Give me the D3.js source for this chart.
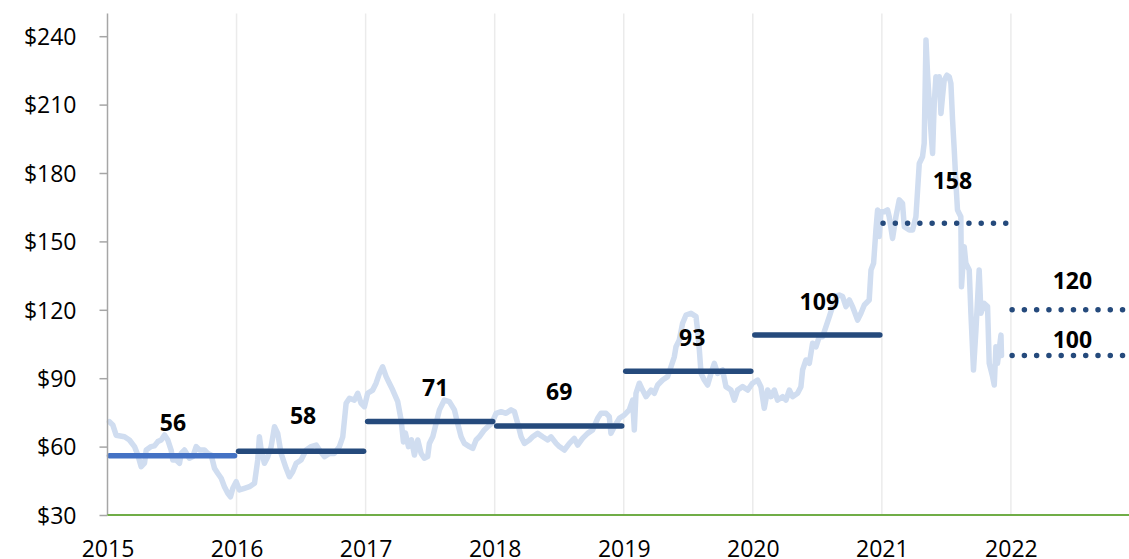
<!DOCTYPE html>
<html>
<head>
<meta charset="utf-8">
<script src="https://cdn.jsdelivr.net/npm/d3@7"></script>
<style>
  html, body { margin: 0; padding: 0; background: #fff; }
  #chart { width: 1129px; height: 559px; overflow: hidden; }
  .axis-label { font-family: 'Open Sans', 'Noto Sans', sans-serif; font-size: 23px; fill: #000; }
  .avg-label { font-family: 'Open Sans', 'Noto Sans', sans-serif; font-size: 23px; font-weight: bold; fill: #000; }
</style>
</head>
<body>
<div id="chart"></div>
<script>
(function() {

  'use strict';

  // Price trace, [decimal year, price].
  var prices = [
    [2015.015, 70.9], [2015.041, 69.5], [2015.067, 65], [2015.132, 64.3], [2015.170, 62.9],
    [2015.209, 60], [2015.235, 56.3], [2015.261, 51.2], [2015.287, 52.8], [2015.300, 58.5],
    [2015.338, 60], [2015.364, 60.3], [2015.390, 62.2], [2015.416, 62.9], [2015.442, 65.1],
    [2015.467, 62.9], [2015.493, 58.5], [2015.506, 54.1], [2015.532, 54.1], [2015.558, 52.7],
    [2015.571, 57], [2015.596, 58.5], [2015.635, 54.9], [2015.661, 55.6], [2015.687, 60],
    [2015.713, 58.5], [2015.751, 58.5], [2015.777, 57], [2015.803, 56.3], [2015.829, 50.5],
    [2015.854, 48.3], [2015.881, 46.1], [2015.906, 42.4], [2015.932, 39.5], [2015.953, 38],
    [2015.971, 41.7], [2015.997, 44.6],
    [2016.022, 41], [2016.061, 41.7], [2016.100, 42.4], [2016.139, 43.9], [2016.164, 54.1],
    [2016.177, 64.3], [2016.191, 58.5], [2016.216, 52.7], [2016.242, 55.6], [2016.268, 60],
    [2016.294, 68.7], [2016.319, 65.8], [2016.345, 57], [2016.384, 50.5], [2016.410, 46.8],
    [2016.435, 49], [2016.462, 52.7], [2016.500, 54.1], [2016.539, 58.5], [2016.578, 60],
    [2016.617, 60.7], [2016.642, 58.5], [2016.681, 55.6], [2016.720, 57], [2016.758, 57],
    [2016.797, 60], [2016.823, 64.3], [2016.849, 79], [2016.875, 81.2], [2016.913, 80.4],
    [2016.939, 83.4], [2016.965, 79], [2016.991, 77.5],
    [2017.016, 83.4], [2017.055, 84.8], [2017.081, 87.8], [2017.107, 92.1], [2017.132, 95],
    [2017.159, 90.7], [2017.184, 87.8], [2017.210, 84.8], [2017.249, 79.7], [2017.275, 71.7],
    [2017.293, 62], [2017.308, 66], [2017.332, 60], [2017.355, 63], [2017.378, 56.3],
    [2017.404, 62.9], [2017.430, 57], [2017.455, 54.9], [2017.481, 55.6], [2017.494, 61.4],
    [2017.520, 64.3], [2017.546, 70.2], [2017.572, 76.1], [2017.610, 80.4], [2017.649, 79.7],
    [2017.688, 76.1], [2017.713, 70.2], [2017.740, 64.3], [2017.765, 61.4], [2017.804, 60],
    [2017.830, 59.2], [2017.856, 62.9], [2017.881, 64.3], [2017.920, 67.3], [2017.946, 68.7],
    [2017.977, 70.2],
    [2018.011, 74.6], [2018.050, 75.3], [2018.088, 74.6], [2018.127, 76.1], [2018.153, 75.3],
    [2018.178, 70.2], [2018.205, 64.3], [2018.230, 61.4], [2018.269, 62.9], [2018.294, 64.3],
    [2018.333, 65.8], [2018.372, 64.3], [2018.411, 62.9], [2018.437, 64.3], [2018.476, 61.4],
    [2018.501, 60], [2018.540, 58.5], [2018.579, 61.4], [2018.617, 63.6], [2018.643, 60.7],
    [2018.681, 63.6], [2018.720, 65.8], [2018.759, 67.3], [2018.798, 72.4], [2018.824, 74.6],
    [2018.863, 74.6], [2018.888, 73.1], [2018.901, 65.8], [2018.927, 68.7], [2018.966, 72.4],
    [2019.005, 73.9], [2019.043, 76.1], [2019.069, 80.4], [2019.082, 67.3], [2019.095, 83.4],
    [2019.121, 87.8], [2019.146, 84.8], [2019.173, 81.9], [2019.211, 84.8], [2019.237, 83.4],
    [2019.263, 87], [2019.301, 89.2], [2019.340, 90.7], [2019.366, 95], [2019.392, 99.4],
    [2019.405, 103.8], [2019.431, 106.8], [2019.456, 114.1], [2019.483, 117.7], [2019.521, 118.5],
    [2019.560, 117], [2019.572, 111.1], [2019.586, 102.4], [2019.599, 92.1], [2019.624, 89.2],
    [2019.650, 87], [2019.676, 92.1], [2019.702, 96.5], [2019.727, 92.1], [2019.766, 93.6],
    [2019.792, 86.3], [2019.831, 84.8], [2019.857, 80.4], [2019.882, 84.8], [2019.921, 86.3],
    [2019.960, 84.8], [2019.998, 87.8],
    [2020.037, 89.2], [2020.063, 86.3], [2020.089, 76.8], [2020.115, 84.8], [2020.141, 81.9],
    [2020.167, 84.8], [2020.192, 80.4], [2020.231, 81.9], [2020.257, 80.4], [2020.283, 84.8],
    [2020.308, 81.9], [2020.347, 83.4], [2020.373, 86.3], [2020.386, 93.6], [2020.412, 98],
    [2020.438, 96.5], [2020.463, 105.3], [2020.490, 103.8], [2020.515, 108.2], [2020.541, 108.2],
    [2020.567, 112.6], [2020.593, 117], [2020.618, 121.4], [2020.645, 125.8], [2020.670, 126.5],
    [2020.696, 125.8], [2020.722, 121.4], [2020.748, 124.3], [2020.773, 121.4], [2020.812, 115.5],
    [2020.838, 118.5], [2020.864, 122.1], [2020.902, 124.3], [2020.916, 137.5], [2020.936, 140.4],
    [2020.954, 155], [2020.967, 163.8], [2020.980, 152.1],
    [2020.993, 163], [2021.019, 163], [2021.044, 163.8], [2021.057, 160.8], [2021.083, 151.3],
    [2021.109, 160.8], [2021.135, 168.2], [2021.160, 166.7], [2021.174, 156.4], [2021.212, 155],
    [2021.238, 155], [2021.264, 160.8], [2021.277, 172.5], [2021.290, 184.2], [2021.315, 187.1],
    [2021.328, 193], [2021.342, 238.3], [2021.354, 223.7], [2021.380, 198.7], [2021.393, 188.6],
    [2021.406, 210.6], [2021.419, 222.2], [2021.432, 217.8], [2021.445, 222.2], [2021.458, 206.1],
    [2021.470, 213.4], [2021.483, 220.7], [2021.504, 222.9], [2021.522, 222.2], [2021.535, 219.3],
    [2021.548, 203.2], [2021.561, 190.1], [2021.574, 175.5], [2021.586, 163.8], [2021.612, 160.8],
    [2021.617, 130.1], [2021.638, 147.7], [2021.651, 140.4], [2021.677, 137.5], [2021.690, 118.5],
    [2021.710, 93.6], [2021.729, 111.1], [2021.754, 137.5], [2021.768, 118.5], [2021.793, 122.8],
    [2021.819, 121.4], [2021.832, 96.5], [2021.858, 90.7], [2021.871, 87], [2021.884, 103.8],
    [2021.896, 96.5], [2021.923, 108.9], [2021.927, 100]
  ];

  // Yearly averages (solid), 2021 average and 2022 scenarios (dotted).
  var avgYears = [2015, 2016, 2017, 2018, 2019, 2020, 2021, 2022, 2022];
  var avgValues = [56, 58, 71, 69, 93, 109, 158, 120, 100];
  var avgDotted = [false, false, false, false, false, false, true, true, true];

  var yTicks = [30, 60, 90, 120, 150, 180, 210, 240];
  var xTicks = [2015, 2016, 2017, 2018, 2019, 2020, 2021, 2022];

  // Label nudges (pixels) so the numbers sit where the original put them.
  var labelLift = [25, 27, 26, 26, 25, 25, 34, 21, 7];
  var labelShift = [1, 2, 5, 0, 4, 2, 6, 5, 5];

  var width = 1129;
  var height = 559;
  var left = 107.5;
  var top = 13.4;
  var bottom = 515;
  var xEnd = 2022.915;

  var xScale = d3.scaleLinear().domain([2015, xEnd]).range([left, width]);
  var yScale = d3.scaleLinear().domain([30, 250]).range([bottom, top]);

  var svg = d3.select('#chart')
    .append('svg')
    .attr('width', width)
    .attr('height', height);

  // Vertical year gridlines.
  svg.append('g')
    .selectAll('line')
    .data(xTicks.slice(1))
    .enter().append('line')
    .attr('x1', function(d) { return xScale(d); })
    .attr('x2', function(d) { return xScale(d); })
    .attr('y1', top)
    .attr('y2', bottom)
    .attr('stroke', '#ebebeb')
    .attr('stroke-width', 1.5);

  // Price trace.
  var line = d3.line()
    .x(function(d) { return xScale(d[0]); })
    .y(function(d) { return yScale(d[1]); });

  svg.append('path')
    .datum(prices)
    .attr('d', line)
    .attr('fill', 'none')
    .attr('stroke', '#d0ddf0')
    .attr('stroke-width', 5.5)
    .attr('stroke-linejoin', 'round')
    .attr('stroke-linecap', 'round');

  // Average segments.
  var avgIndex = d3.range(avgValues.length);

  svg.append('g')
    .selectAll('line')
    .data(avgIndex)
    .enter().append('line')
    .attr('x1', function(i) { return xScale(avgYears[i]) + (avgDotted[i] ? 1.2 : 2); })
    .attr('x2', function(i) { return Math.min(xScale(avgYears[i] + 1), width) - 2; })
    .attr('y1', function(i) { return yScale(avgValues[i]); })
    .attr('y2', function(i) { return yScale(avgValues[i]); })
    .attr('stroke', function(i) { return i === 0 ? '#4472c4' : '#254a7c'; })
    .attr('stroke-width', 5.5)
    .attr('stroke-linecap', 'round')
    .attr('stroke-dasharray', function(i) { return avgDotted[i] ? '0 12.27' : null; });

  svg.append('g')
    .selectAll('text')
    .data(avgIndex)
    .enter().append('text')
    .attr('class', 'avg-label')
    .attr('text-anchor', 'middle')
    .attr('x', function(i) {
      var mid = (xScale(avgYears[i]) + Math.min(xScale(avgYears[i] + 1), width - 5)) / 2;
      return mid + labelShift[i];
    })
    .attr('y', function(i) { return yScale(avgValues[i]) - labelLift[i]; })
    .text(function(i) { return avgValues[i]; });

  // Y axis.
  var yAxis = d3.axisLeft(yScale)
    .tickValues(yTicks)
    .tickSize(8)
    .tickPadding(23)
    .tickFormat(function(d) { return '$' + d; });

  var yAxisG = svg.append('g')
    .attr('transform', 'translate(' + left + ',0)')
    .call(yAxis);
  yAxisG.select('.domain').remove();
  yAxisG.attr('font-family', null).attr('font-size', null);
  yAxisG.selectAll('.tick line').attr('stroke', '#a6a6a6').attr('stroke-width', 1.5);
  yAxisG.selectAll('.tick text')
    .attr('class', 'axis-label')
    .attr('dy', '0.36em');

  svg.append('line')
    .attr('x1', left)
    .attr('x2', left)
    .attr('y1', top)
    .attr('y2', bottom)
    .attr('stroke', '#a6a6a6')
    .attr('stroke-width', 1.5);

  // X axis (green baseline with year labels).
  svg.append('line')
    .attr('x1', left)
    .attr('x2', width)
    .attr('y1', bottom)
    .attr('y2', bottom)
    .attr('stroke', '#70ad47')
    .attr('stroke-width', 2);

  var xAxis = d3.axisBottom(xScale)
    .tickValues(xTicks)
    .tickSize(0)
    .tickPadding(0)
    .tickFormat(d3.format('d'));

  var xAxisG = svg.append('g')
    .attr('transform', 'translate(0,' + bottom + ')')
    .call(xAxis);
  xAxisG.select('.domain').remove();
  xAxisG.attr('font-family', null).attr('font-size', null);
  xAxisG.selectAll('.tick text')
    .attr('class', 'axis-label')
    .attr('y', 42)
    .attr('dy', null);

}());
</script>
</body>
</html>
